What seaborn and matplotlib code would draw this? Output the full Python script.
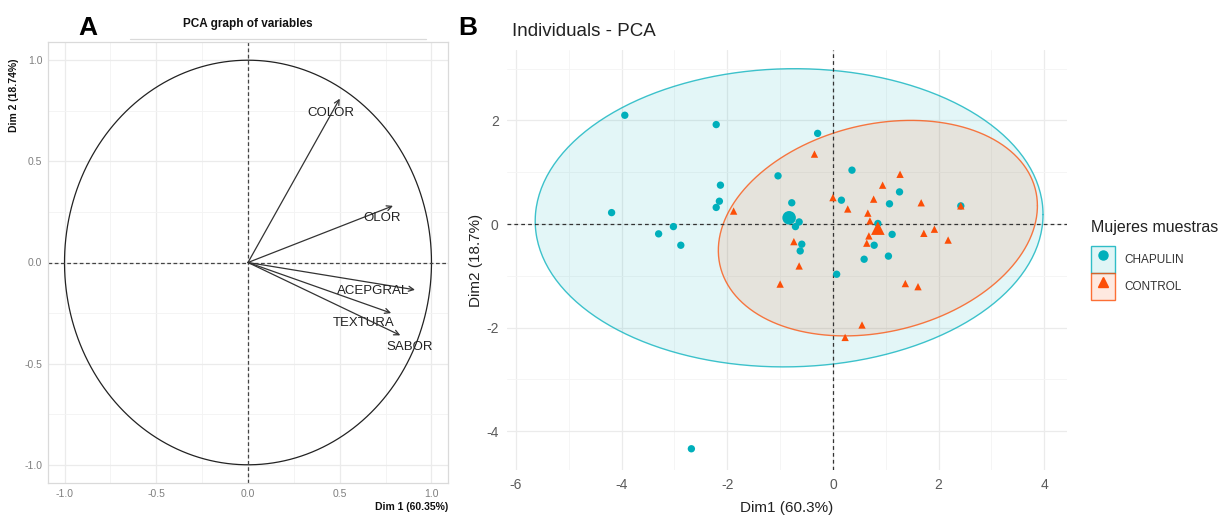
import numpy as np
import pandas as pd
import matplotlib
matplotlib.use("Agg")
import matplotlib.pyplot as plt
import seaborn as sns
from matplotlib.colors import to_rgba
from matplotlib.patches import Patch
from matplotlib.lines import Line2D
from matplotlib.legend_handler import HandlerTuple

# ---- Panel A: variable loadings (correlation circle) ----
variables = ["COLOR", "OLOR", "ACEPGRAL", "TEXTURA", "SABOR"]
load_dim1 = [0.50, 0.79, 0.91, 0.78, 0.83]
load_dim2 = [0.81, 0.28, -0.135, -0.25, -0.36]
label_dim1 = [0.45, 0.73, 0.68, 0.63, 0.88]
label_dim2 = [0.74, 0.22, -0.14, -0.30, -0.42]

# ---- Panel B: individual scores ----
groups = ["CHAPULIN", "CONTROL"]
chap_dim1 = [-3.94, -2.21, -0.29, -1.04, 0.36, 1.26, -2.13, -2.15, -2.21, -4.19,
             -0.78, 0.16, 1.07, 2.42, 0.85, -0.64, -0.71, -3.02, -3.30, -2.88,
             1.12, 0.78, -0.59, -0.62, 0.59, 1.05, 0.07, -2.68]
chap_dim2 = [2.10, 1.92, 1.75, 0.93, 1.04, 0.62, 0.75, 0.44, 0.32, 0.22,
             0.41, 0.46, 0.39, 0.35, 0.01, 0.04, -0.05, -0.05, -0.19, -0.41,
             -0.20, -0.41, -0.39, -0.52, -0.68, -0.62, -0.97, -4.34]
ctrl_dim1 = [-0.35, 1.27, 0.94, 0.00, 0.77, 1.67, 2.42, 0.28, 0.66, 0.70,
             1.92, 1.72, 2.18, 0.68, 0.64, -0.74, -0.64, -1.00, 1.37, 1.61,
             0.55, 0.23, -1.88]
ctrl_dim2 = [1.35, 0.96, 0.75, 0.51, 0.48, 0.41, 0.35, 0.29, 0.21, 0.06,
             -0.10, -0.18, -0.31, -0.23, -0.37, -0.34, -0.81, -1.16, -1.15, -1.21,
             -1.95, -2.19, 0.25]
group_mean_dim1 = [-0.83, 0.85]
group_mean_dim2 = [0.12, -0.08]
# concentration ellipses: variance along Dim1, Dim2 and covariance
ell_var1 = [23.1, 9.12]
ell_var2 = [8.29, 4.33]
ell_cov = [0.3, 1.3]

palette = {"CHAPULIN": "#00AFBB", "CONTROL": "#FC4E07"}
markers = {"CHAPULIN": "o", "CONTROL": "^"}

sns.set_theme(style="white")
plt.rcParams["font.family"] = ["Liberation Sans", "DejaVu Sans"]
plt.rcParams["axes.unicode_minus"] = False

fig = plt.figure(figsize=(12.28, 5.16), dpi=100)
W, H = 1228, 516


def px_axes(left, top, right, bottom):
    return fig.add_axes([left / W, 1 - bottom / H, (right - left) / W, (bottom - top) / H])


# ================= Panel A =================
axA = px_axes(48, 42, 448, 483)
axA.set_xlim(-1.09, 1.09)
axA.set_ylim(-1.09, 1.09)
major = [-1.0, -0.5, 0.0, 0.5, 1.0]
minor = [-0.75, -0.25, 0.25, 0.75]
axA.set_xticks(major)
axA.set_yticks(major)
axA.set_xticks(minor, minor=True)
axA.set_yticks(minor, minor=True)
axA.set_xticklabels([f"{v:.1f}" for v in major])
axA.set_yticklabels([f"{v:.1f}" for v in major])
axA.grid(which="major", color="#EBEBEB", linewidth=0.9)
axA.grid(which="minor", color="#F3F3F3", linewidth=0.6)
axA.set_axisbelow(True)
for sp in axA.spines.values():
    sp.set_color("#DADADA")
    sp.set_linewidth(0.9)
axA.tick_params(axis="both", which="both", length=0, labelsize=7.5, labelcolor="#7F7F7F", pad=4)

theta = np.linspace(0, 2 * np.pi, 400)
axA.plot(np.cos(theta), np.sin(theta), color="#222222", linewidth=0.9)
axA.axhline(0, color="#444444", linestyle=(0, (3, 2)), linewidth=0.9)
axA.axvline(0, color="#444444", linestyle=(0, (3, 2)), linewidth=0.9)

for name, x, y, lx, ly in zip(variables, load_dim1, load_dim2, label_dim1, label_dim2):
    axA.annotate("", xy=(x, y), xytext=(0, 0),
                 arrowprops=dict(arrowstyle="->", color="#333333", linewidth=0.9,
                                 mutation_scale=9, shrinkA=0, shrinkB=0))
    axA.text(lx, ly, name, ha="center", va="center", fontsize=9.5, color="#222222")

axA.set_xlabel("")
axA.set_ylabel("")
fig.text(448 / W, 1 - 507 / H, "Dim 1 (60.35%)", ha="right", va="center",
         fontsize=7.5, fontweight="bold", color="#111111")
fig.text(14 / W, 1 - 95 / H, "Dim 2 (18.74%)", ha="center", va="center", rotation=90,
         fontsize=7.5, fontweight="bold", color="#111111")
fig.text(248 / W, 1 - 24 / H, "PCA graph of variables", ha="center", va="center",
         fontsize=8.5, fontweight="bold", color="#111111")
fig.add_artist(Line2D([130 / W, 426 / W], [1 - 39 / H, 1 - 39 / H], color="#DADADA", linewidth=0.9))

# ================= Panel B =================
axB = px_axes(507, 50, 1067, 470)
axB.set_xlim(-6.17, 4.43)
axB.set_ylim(-4.75, 3.36)
axB.set_xticks([-6, -4, -2, 0, 2, 4])
axB.set_yticks([-4, -2, 0, 2])
axB.set_xticks([-5, -3, -1, 1, 3], minor=True)
axB.set_yticks([-3, -1, 1, 3], minor=True)
axB.grid(which="major", color="#EBEBEB", linewidth=0.9)
axB.grid(which="minor", color="#F4F4F4", linewidth=0.6)
axB.set_axisbelow(True)
for sp in axB.spines.values():
    sp.set_visible(False)
axB.tick_params(axis="both", which="major", length=3, width=0.8, color="#7F7F7F",
                labelsize=10, labelcolor="#5A5A5A", pad=3)
axB.tick_params(axis="both", which="minor", length=0)

# concentration ellipses
t = np.linspace(0, 2 * np.pi, 300)
circle = np.vstack([np.cos(t), np.sin(t)])
for g, mx, my, v1, v2, c in zip(groups, group_mean_dim1, group_mean_dim2, ell_var1, ell_var2, ell_cov):
    L = np.linalg.cholesky(np.array([[v1, c], [c, v2]]))
    pts = L @ circle
    ex, ey = mx + pts[0], my + pts[1]
    axB.fill(ex, ey, color=palette[g], alpha=0.11, linewidth=0, zorder=1)
    axB.plot(ex, ey, color=palette[g], alpha=0.75, linewidth=1.0, zorder=2)

axB.axhline(0, color="#333333", linestyle=(0, (3, 2.5)), linewidth=0.9, zorder=3)
axB.axvline(0, color="#333333", linestyle=(0, (3, 2.5)), linewidth=0.9, zorder=3)

df = pd.DataFrame({
    "Dim1": chap_dim1 + ctrl_dim1,
    "Dim2": chap_dim2 + ctrl_dim2,
    "Grupo": ["CHAPULIN"] * len(chap_dim1) + ["CONTROL"] * len(ctrl_dim1),
})
sns.scatterplot(data=df, x="Dim1", y="Dim2", hue="Grupo", style="Grupo",
                palette=palette, markers=markers, s=28, linewidth=0,
                legend=False, ax=axB, zorder=4)
centers = pd.DataFrame({"Dim1": group_mean_dim1, "Dim2": group_mean_dim2, "Grupo": groups})
sns.scatterplot(data=centers, x="Dim1", y="Dim2", hue="Grupo", style="Grupo",
                palette=palette, markers=markers, s=95, linewidth=0,
                legend=False, ax=axB, zorder=5)

axB.set_xlabel("Dim1 (60.3%)", fontsize=11, color="#222222", labelpad=6)
axB.set_ylabel("Dim2 (18.7%)", fontsize=11, color="#222222", labelpad=2)
axB.set_title("Individuals - PCA", loc="left", fontsize=13.5, color="#222222",
              x=(512 - 507) / 560, y=1.0, pad=10)

handles = []
for g in groups:
    box = Patch(facecolor=to_rgba(palette[g], 0.12), edgecolor=to_rgba(palette[g], 0.8), linewidth=1.0)
    mk = Line2D([], [], linestyle="none", marker=markers[g], color=palette[g], markersize=6.5)
    handles.append((box, mk))
leg = fig.legend(handles, groups, loc="upper left", bbox_to_anchor=(1089 / W, 1 - 218 / H),
                 title="Mujeres muestras", frameon=False, fontsize=8.5, title_fontsize=11.5,
                 handler_map={tuple: HandlerTuple(ndivide=1, pad=0)},
                 handlelength=2.0, handleheight=3.1, handletextpad=0.8, labelspacing=0.0,
                 borderaxespad=0, borderpad=0.2)
leg._legend_box.align = "left"
leg._legend_box.sep = 8
for txt in leg.get_texts():
    txt.set_color("#333333")
leg.get_title().set_color("#222222")

fig.text(88 / W, 1 - 28 / H, "A", ha="center", va="center", fontsize=19, fontweight="bold", color="black")
fig.text(468 / W, 1 - 28 / H, "B", ha="center", va="center", fontsize=19, fontweight="bold", color="black")

fig.savefig("out.png", dpi=100, facecolor="white")
